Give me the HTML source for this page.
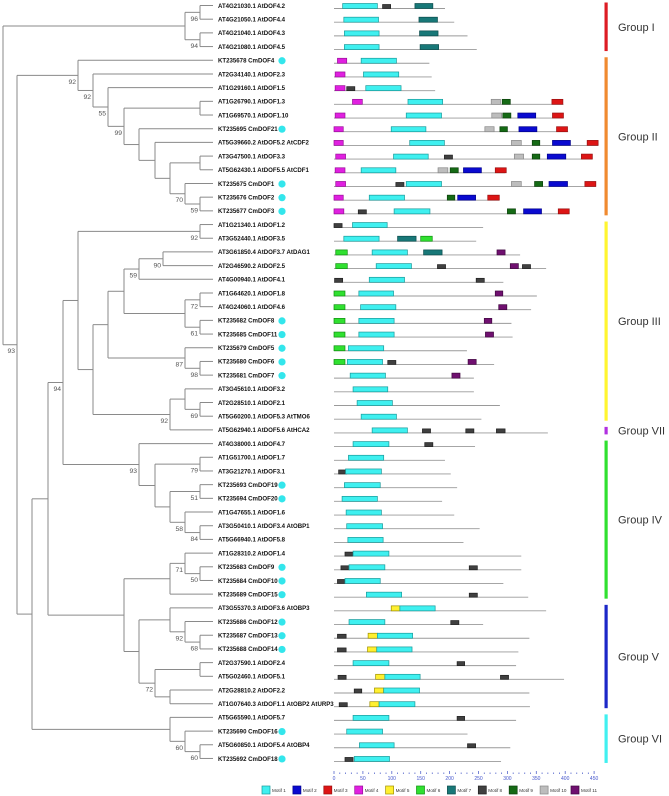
<!DOCTYPE html>
<html><head><meta charset="utf-8"><style>
html,body{margin:0;padding:0;background:#fff;}
svg{display:block;font-family:"Liberation Sans",sans-serif;}
</style></head><body>
<svg id="chart" width="669" height="796" viewBox="0 0 669 796" xmlns="http://www.w3.org/2000/svg"></svg>
<script>
const leafNames = ["AT4G21030.1 AtDOF4.2","AT4G21050.1 AtDOF4.4","AT4G21040.1 AtDOF4.3","AT4G21080.1 AtDOF4.5","KT235678 CmDOF4","AT2G34140.1 AtDOF2.3","AT1G29160.1 AtDOF1.5","AT1G26790.1 AtDOF1.3","AT1G69570.1 AtDOF1.10","KT235695 CmDOF21","AT5G39660.2 AtDOF5.2 AtCDF2","AT3G47500.1 AtDOF3.3","AT5G62430.1 AtDOF5.5 AtCDF1","KT235675 CmDOF1","KT235676 CmDOF2","KT235677 CmDOF3","AT1G21340.1 AtDOF1.2","AT3G52440.1 AtDOF3.5","AT3G61850.4 AtDOF3.7 AtDAG1","AT2G46590.2 AtDOF2.5","AT4G00940.1 AtDOF4.1","AT1G64620.1 AtDOF1.8","AT4G24060.1 AtDOF4.6","KT235682 CmDOF8","KT235685 CmDOF11","KT235679 CmDOF5","KT235680 CmDOF6","KT235681 CmDOF7","AT3G45610.1 AtDOF3.2","AT2G28510.1 AtDOF2.1","AT5G60200.1 AtDOF5.3 AtTMO6","AT5G62940.1 AtDOF5.6 AtHCA2","AT4G38000.1 AtDOF4.7","AT1G51700.1 AtDOF1.7","AT3G21270.1 AtDOF3.1","KT235693 CmDOF19","KT235694 CmDOF20","AT1G47655.1 AtDOF1.6","AT3G50410.1 AtDOF3.4 AtOBP1","AT5G66940.1 AtDOF5.8","AT1G28310.2 AtDOF1.4","KT235683 CmDOF9","KT235684 CmDOF10","KT235689 CmDOF15","AT3G55370.3 AtDOF3.6 AtOBP3","KT235686 CmDOF12","KT235687 CmDOF13","KT235688 CmDOF14","AT2G37590.1 AtDOF2.4","AT5G02460.1 AtDOF5.1","AT2G28810.2 AtDOF2.2","AT1G07640.3 AtDOF1.1 AtOBP2 AtURP3","AT5G65590.1 AtDOF5.7","KT235690 CmDOF16","AT5G60850.1 AtDOF5.4 AtOBP4","KT235692 CmDOF18"];
// tree: [depth, bootstrap, children...]; leaves are 1-based indices
const treeTopology = [0,null,
 [182,null,[197,96,1,2],[197,94,3,4]],
 [14,93,
  [75,92,5,[90,92,6,[105,55,7,[121,99,[197,null,8,9],[136,null,10,[152,null,11,[167,null,[197,null,12,13],[182,70,14,[197,59,15,16]]]]]]]]],
  [29,null,
   [45,null,
    [60,94,
     [75,null,[197,92,17,18],
      [90,null,
       [105,null,
        [121,null,[136,59,[160,90,19,20],21],[182,null,[197,72,22,23],[197,61,24,25]]],
        [182,87,26,[197,98,27,28]]],
       [167,92,[182,null,29,[197,69,30,31]],32]]],
     [136,93,33,[152,null,[197,79,34,35],[167,null,[197,51,36,37],[182,58,38,[197,84,39,40]]]]]],
    [121,null,[167,null,[182,71,41,[197,50,42,43]],44],
     [136,null,[167,null,45,[182,92,46,[197,68,47,48]]],[152,72,[197,null,49,50],[167,null,51,52]]]]],
   [167,null,53,[182,60,54,[197,60,55,56]]]]]];
const leafDepth = 210;
const proteinLengths = [192,208,231,247,165,169,175,397,397,405,457,447,296,453,286,406,258,246,322,367,293,351,341,307,309,230,277,242,242,287,255,370,244,192,202,213,187,208,252,224,324,324,293,336,367,258,338,319,315,398,338,339,315,231,305,289];
// [row(1-based), motif, start, end]
const motifHits = [
[1,1,15,75],[1,8,84,98],[1,7,140,171],
[2,1,17,77],[2,7,147,179],
[3,1,18,78],[3,7,148,180],
[4,1,18,78],[4,7,149,181],
[5,4,6,22],[5,1,47,108],
[6,4,2,19],[6,1,51,112],
[7,4,2,19],[7,8,22,36],[7,1,55,116],
[8,4,32,49],[8,1,128,188],[8,10,272,288],[8,9,291,305],[8,3,377,396],
[9,4,2,19],[9,1,125,186],[9,10,273,290],[9,9,292,306],[9,2,318,349],[9,3,378,397],
[10,4,0,16],[10,1,99,159],[10,10,261,277],[10,9,287,300],[10,2,320,351],[10,3,385,404],
[11,4,0,16],[11,1,131,191],[11,10,307,324],[11,9,343,356],[11,2,378,409],[11,3,438,457],
[12,4,3,20],[12,1,103,163],[12,8,191,205],[12,10,312,328],[12,9,343,356],[12,2,369,401],[12,3,428,447],
[13,4,2,19],[13,1,47,107],[13,10,180,197],[13,9,201,215],[13,2,224,255],[13,3,279,298],
[14,4,3,20],[14,8,107,121],[14,1,125,186],[14,10,307,324],[14,9,347,361],[14,2,372,404],[14,3,434,453],
[15,4,0,16],[15,1,61,122],[15,9,196,209],[15,2,214,245],[15,3,266,286],
[16,4,0,17],[16,8,42,56],[16,1,104,166],[16,9,300,314],[16,2,328,359],[16,3,388,407],
[17,8,0,14],[17,1,32,92],
[18,1,17,78],[18,7,110,142],[18,6,150,170],
[19,6,3,23],[19,1,66,127],[19,7,155,187],[19,11,282,296],
[20,6,3,23],[20,1,73,134],[20,8,179,193],[20,11,305,319],[20,8,326,340],
[21,8,1,15],[21,1,61,122],[21,8,246,260],
[22,6,0,19],[22,1,43,103],[22,11,279,292],
[23,6,0,19],[23,1,46,107],[23,11,285,299],
[24,6,0,19],[24,1,43,104],[24,11,260,273],
[25,6,0,19],[25,1,43,104],[25,11,262,276],
[26,6,0,19],[26,1,25,86],
[27,6,0,19],[27,1,23,84],[27,8,93,107],[27,11,232,246],
[28,1,28,89],[28,11,204,218],
[29,1,33,93],
[30,1,40,101],
[31,1,47,108],
[32,1,66,127],[32,8,153,167],[32,8,228,242],[32,8,281,296],
[33,1,33,95],[33,8,157,171],
[34,1,25,86],
[35,8,8,22],[35,1,20,82],
[36,1,18,80],
[37,1,14,75],
[38,1,21,82],
[39,1,22,84],
[40,1,24,85],
[41,8,19,33],[41,1,33,95],
[42,8,12,27],[42,1,26,88],[42,8,234,248],
[43,8,6,19],[43,1,19,80],
[44,1,56,117],[44,8,234,248],
[45,5,99,114],[45,1,114,175],
[46,1,26,88],[46,8,202,216],
[47,8,6,21],[47,5,59,75],[47,1,75,136],
[48,8,6,21],[48,5,58,74],[48,1,74,135],
[49,1,33,95],[49,8,213,226],
[50,8,7,21],[50,5,72,88],[50,1,88,149],[50,8,288,302],
[51,8,35,48],[51,5,70,86],[51,1,86,148],
[52,8,9,23],[52,5,62,78],[52,1,78,140],
[53,1,33,95],[53,8,213,226],
[54,1,22,84],
[55,1,44,104],[55,8,231,245],
[56,8,19,33],[56,1,35,96]];
const motifLabels = ["Motif 1","Motif 2","Motif 3","Motif 4","Motif 5","Motif 6","Motif 7","Motif 8","Motif 9","Motif 10","Motif 11"];
const axisTicks = [0,50,100,150,200,250,300,350,400,450];
const groupNames = ["Group I","Group II","Group III","Group VII","Group IV","Group V","Group VI"];
const groupRows = [[1,4],[5,16],[17,31],[32,32],[33,44],[45,52],[53,56]];

const motifFill = ["#3ff0f0","#0a0ad0","#dd1515","#e020e0","#fff030","#30e030","#187878","#404040","#156a15","#bdbdbd","#701070"];
const motifStroke = ["#1a9a9a","#00008a","#991010","#991099","#a09000","#109010","#0c4c4c","#202020","#0c400c","#888","#400840"];
const groupColors = ["#dd1c24","#f08a30","#fff530","#b030e0","#30e030","#1c28c8","#40f0f0"];

const svg = document.getElementById('chart');
const NS = "http://www.w3.org/2000/svg";
function mk(tag, attrs, parent){const e=document.createElementNS(NS,tag);for(const k in attrs)e.setAttribute(k,attrs[k]);(parent||svg).appendChild(e);return e;}
const rowY = i => 5.5 + 13.69*(i-1);
const treeX = d => 3 + d;
const seqX = u => 334 + u*0.578;

const treeG = mk('g',{});


function layout(node){
  if(typeof node === 'number') return {x:treeX(leafDepth), y:rowY(node)};
  const d=node[0], b=node[1], kids=node.slice(2).map(layout);
  const x=treeX(d), y=(kids[0].y+kids[kids.length-1].y)/2;
  const v=mk('line',{x1:x,y1:kids[0].y,x2:x,y2:kids[kids.length-1].y,stroke:'#8a8a8a','stroke-width':1},treeG);
  
  
  kids.forEach(k=>{
    const h=mk('line',{x1:x,y1:k.y,x2:k.x,y2:k.y,stroke:'#8a8a8a','stroke-width':1},treeG);
    
    
  });
  if(b!==null){
    const t=mk('text',{x:x-2,y:y+8.5,'text-anchor':'end','font-size':6.8,fill:'#555'},treeG);
    t.textContent=b;
    
    
  }
  return {x,y};
}
layout(treeTopology);

leafNames.forEach((n,i)=>{
  const y=rowY(i+1);
  const t=mk('text',{x:218,y:y+2.3,'font-size':6.1,'font-weight':'bold',fill:'#111'});
  t.textContent=n;
  
  
  if(n.startsWith('KT')){
    const c=mk('circle',{cx:282,cy:y+0.5,r:3.6,fill:'#33e6ec'});
    
    
  }
});

proteinLengths.forEach((L,i)=>{
  const y=rowY(i+1)+3;
  const l=mk('line',{x1:seqX(0),y1:y,x2:seqX(L),y2:y,stroke:'#9a9a9a','stroke-width':0.9});
  
  
});
motifHits.forEach(h=>{
  const [r,m,s,e]=h; const y=rowY(r);
  const thin = (m===8 && (e-s)<=15) ? 1 : 0;
  const rc=mk('rect',{x:seqX(s),y:y-2+thin,width:seqX(e)-seqX(s),height:5-thin,fill:motifFill[m-1],stroke:motifStroke[m-1],'stroke-width':0.7});
  
  
});

// axis
const axG=mk('g',{});


for(let u=0;u<=450;u+=10){
  const major = axisTicks.includes(u);
  const tk=mk('line',{x1:seqX(u),y1:major?771:772.5,x2:seqX(u),y2:774,stroke:'#5566cc','stroke-width':0.8},axG);
  
  
}
axisTicks.forEach(u=>{
  const t=mk('text',{x:seqX(u),y:780,'text-anchor':'middle','font-size':5,fill:'#4455cc'},axG);
  t.textContent=u;
  
  
});

// legend
motifLabels.forEach((lab,i)=>{
  const x=262+i*30.9;
  const g=mk('g',{});
  
  
  mk('rect',{x:x,y:786,width:8,height:8,fill:motifFill[i],stroke:motifStroke[i],'stroke-width':0.7},g);
  const t=mk('text',{x:x+10,y:792,'font-size':4.6,fill:'#333'},g);
  t.textContent=lab;
});

// groups
groupNames.forEach((g,i)=>{
  const [a,b]=groupRows[i];
  const y1=rowY(a)-3, y2=rowY(b)+4.5;
  const r=mk('rect',{x:604.5,y:y1,width:3.2,height:y2-y1,fill:groupColors[i]});
  
  
  const t=mk('text',{x:618,y:(y1+y2)/2+4,'font-size':11,fill:'#333'});
  t.textContent=g;
  
  
});
</script>
</body></html>
